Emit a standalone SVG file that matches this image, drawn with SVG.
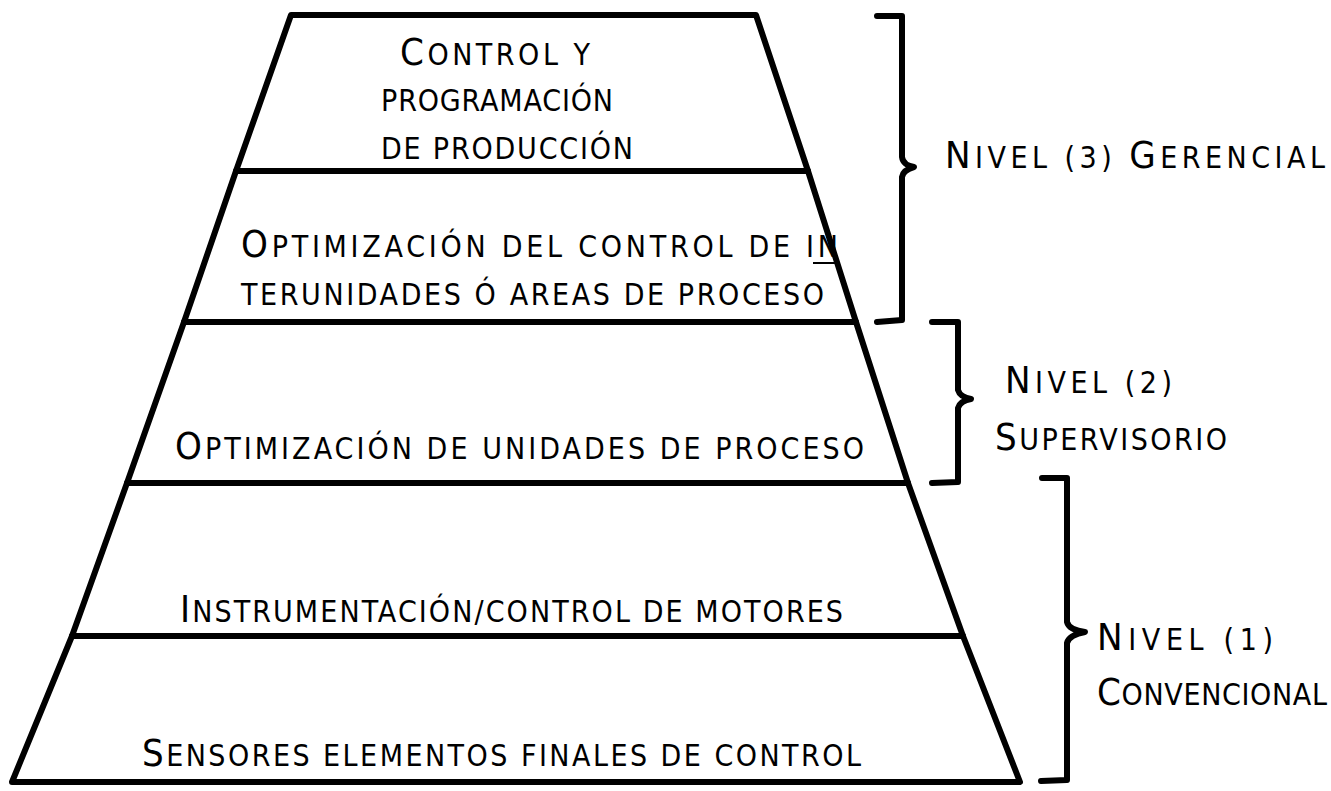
<svg xmlns="http://www.w3.org/2000/svg" width="1331" height="791" viewBox="0 0 1331 791">
<style>
  .bg{fill:#ffffff}
  .edge{fill:none;stroke:#000;stroke-width:6;stroke-linejoin:round;stroke-linecap:round}
  .div{stroke:#000;stroke-width:6;stroke-linecap:round}
  .brace{fill:none;stroke:#000;stroke-width:6;stroke-linejoin:round;stroke-linecap:round}
  text{font-family:"DejaVu Sans","Liberation Sans",sans-serif;font-stretch:condensed;font-size:30px;fill:#000}
  .cap{font-size:38px}
</style>
<rect class="bg" x="0" y="0" width="1331" height="791"/>
<g id="pyramid-outline">
  <polygon class="edge" points="291,15 756,15 808,171 856,322 908,483 963,636 1020,782 12,782 72,636 127,483 184,322 236,171"/>
</g>
<g id="tier-produccion">
  <text x="400" y="65" textLength="190" lengthAdjust="spacing"><tspan class="cap">C</tspan>ONTROL  Y</text>
  <text x="381" y="111" textLength="232" lengthAdjust="spacing">PROGRAMACIÓN</text>
  <text x="381" y="159" textLength="252" lengthAdjust="spacing">DE PRODUCCIÓN</text>
</g>
<g id="tier-interunidades">
  <line class="div" x1="236" y1="171" x2="808" y2="171"/>
  <text x="241" y="257" textLength="597" lengthAdjust="spacing"><tspan class="cap">O</tspan>PTIMIZACIÓN DEL CONTROL DE IN</text>
  <line x1="813" y1="263" x2="836" y2="263" stroke="#000" stroke-width="2"/>
  <text x="241" y="305" textLength="583" lengthAdjust="spacing">TERUNIDADES Ó AREAS DE PROCESO</text>
</g>
<g id="tier-unidades">
  <line class="div" x1="184" y1="322" x2="856" y2="322" stroke-width="5"/>
  <text x="175" y="459" textLength="689" lengthAdjust="spacing"><tspan class="cap">O</tspan>PTIMIZACIÓN DE UNIDADES DE PROCESO</text>
</g>
<g id="tier-instrumentacion">
  <line class="div" x1="127" y1="483" x2="908" y2="483"/>
  <text x="180" y="622" textLength="663" lengthAdjust="spacing"><tspan class="cap">I</tspan>NSTRUMENTACIÓN/CONTROL DE MOTORES</text>
</g>
<g id="tier-sensores">
  <line class="div" x1="72" y1="636" x2="963" y2="636"/>
  <text x="142" y="766" textLength="719" lengthAdjust="spacing"><tspan class="cap">S</tspan>ENSORES ELEMENTOS FINALES DE CONTROL</text>
</g>
<g id="connectors">
  <path class="brace" d="M877,16 L902,16 L902,157 Q903,165 914,167 Q903,170 902,177 L902,320 L877,322"/>
  <path class="brace" d="M932,322 L958,322 L958,390 Q960,397 971,399 Q960,401 958,408 L958,482 L932,483"/>
  <path class="brace" d="M1042,478 L1067,478 L1067,622 Q1069,630 1085,632 Q1069,635 1067,643 L1067,780 L1041,781"/>
</g>
<g id="nivel-3">
  <text x="945" y="168" textLength="380" lengthAdjust="spacing"><tspan class="cap">N</tspan>IVEL (3) <tspan class="cap">G</tspan>ERENCIAL</text>
</g>
<g id="nivel-2">
  <text x="1005" y="393" textLength="167" lengthAdjust="spacing"><tspan class="cap">N</tspan>IVEL (2)</text>
  <text x="995" y="450" textLength="232" lengthAdjust="spacing"><tspan class="cap">S</tspan>UPERVISORIO</text>
</g>
<g id="nivel-1">
  <text x="1097" y="650" textLength="176" lengthAdjust="spacing"><tspan class="cap">N</tspan>IVEL (1)</text>
  <text x="1097" y="705" textLength="230" lengthAdjust="spacing"><tspan class="cap">C</tspan>ONVENCIONAL</text>
</g>
</svg>
